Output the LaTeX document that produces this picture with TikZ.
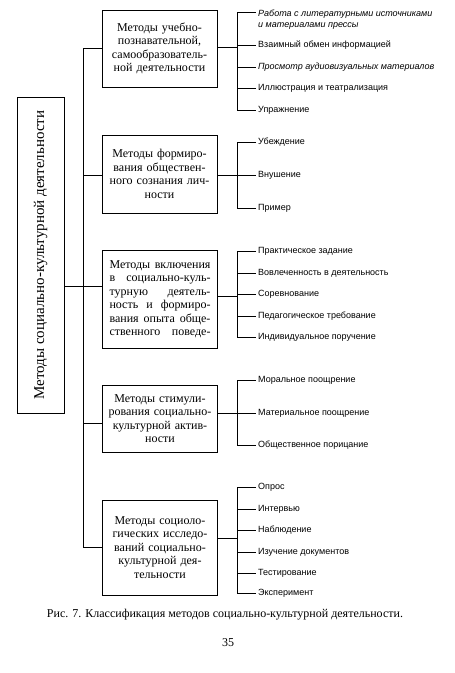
\documentclass[tikz,border=0pt]{standalone}
\usepackage{fontspec}
\setmainfont{Liberation Serif}
\setsansfont{Liberation Sans}
\usetikzlibrary{positioning}

\newcommand{\jline}[1]{\makebox[101pt]{#1}}

\tikzset{
  wire/.style={line width=0.9pt},
  group/.style={draw, line width=0.9pt, align=center, text width=107pt,
    inner xsep=4pt, inner ysep=3pt, font=\fontsize{12}{13.5}\selectfont},
  leaf/.style={anchor=west, inner sep=2pt, font=\sffamily\fontsize{9}{10.5}\selectfont},
  leafit/.style={leaf, font=\sffamily\itshape\fontsize{9}{10.5}\selectfont}
}

\begin{document}
\begin{tikzpicture}[x=1pt,y=-1pt]
\useasboundingbox (0,0) rectangle (455,673);
% the root box, standing on its side
\node[draw, line width=0.9pt, rotate=90, minimum width=316pt, minimum height=47pt,
  font=\fontsize{15}{17}\selectfont] (root) at (40.5,255) {Методы социально-культурной деятельности};

% the trunk and its five groups
\coordinate (t1) at (83,48);
\coordinate (t2) at (83,175);
\coordinate (t3) at (83,286);
\coordinate (t4) at (83,423);
\coordinate (t5) at (83,547);
\node[group, minimum height=77pt] (m1) at (159.5,48.5)
  {Методы учебно-\\познавательной,\\самообразователь-\\ной деятельности};
\node[group, minimum height=78pt] (m2) at (159.5,174)
  {Методы формиро-\\вания обществен-\\ного сознания лич-\\ности};
\node[group, minimum height=98pt] (m3) at (160,299)
  {\jline{Методы\hfill включения}\\\jline{в\hfill социально-куль-}\\\jline{турную\hfill деятель-}\\
   \jline{ность\hfill и\hfill формиро-}\\\jline{вания\hfill опыта\hfill обще-}\\\jline{ственного\hfill поведе-}};
\node[group, minimum height=67pt] (m4) at (160,418.5)
  {Методы стимули-\\рования социально-\\культурной актив-\\ности};
\node[group, minimum height=95pt] (m5) at (160,547.5)
  {Методы социоло-\\гических исследо-\\ваний социально-\\культурной дея-\\тельности};

\draw[wire] (t1) -- (t5);
\draw[wire] (root.south |- t3) -- (t3);
\draw[wire] (t1) -- (t1 -| m1.west);
\draw[wire] (t2) -- (t2 -| m2.west);
\draw[wire] (t3) -- (t3 -| m3.west);
\draw[wire] (t4) -- (t4 -| m4.west);
\draw[wire] (t5) -- (t5 -| m5.west);

% group 1
\coordinate (b1) at (237,47);
\coordinate (k11) at (237,12);
\node[leafit, anchor=north west, align=left] (l11) at (256,8)
  {Работа с литературными источниками\\и материалами прессы};
\node[leaf] (l12) at (256,45) {Взаимный обмен информацией};
\node[leafit] (l13) at (256,67) {Просмотр аудиовизуальных материалов};
\node[leaf] (l14) at (256,88) {Иллюстрация и театрализация};
\node[leaf] (l15) at (256,110) {Упражнение};
\draw[wire] (b1 -| m1.east) -- (b1);
\draw[wire] (k11) -- (l15.west -| b1) -- (l15.west);
\draw[wire] (k11) -- (k11 -| l11.west);
\draw[wire] (l12.west -| b1) -- (l12.west);
\draw[wire] (l13.west -| b1) -- (l13.west);
\draw[wire] (l14.west -| b1) -- (l14.west);

% group 2
\coordinate (b2) at (237,175);
\node[leaf] (l21) at (256,142) {Убеждение};
\node[leaf] (l22) at (256,175) {Внушение};
\node[leaf] (l23) at (256,208) {Пример};
\draw[wire] (b2 -| m2.east) -- (b2);
\draw[wire] (l21.west) -- (l21.west -| b2) -- (l23.west -| b2) -- (l23.west);
\draw[wire] (l22.west -| b2) -- (l22.west);

% group 3
\coordinate (b3) at (237,296);
\node[leaf] (l31) at (256,251) {Практическое задание};
\node[leaf] (l32) at (256,273) {Вовлеченность в деятельность};
\node[leaf] (l33) at (256,294) {Соревнование};
\node[leaf] (l34) at (256,316) {Педагогическое требование};
\node[leaf] (l35) at (256,337) {Индивидуальное поручение};
\draw[wire] (b3 -| m3.east) -- (b3);
\draw[wire] (l31.west) -- (l31.west -| b3) -- (l35.west -| b3) -- (l35.west);
\draw[wire] (l32.west -| b3) -- (l32.west);
\draw[wire] (l33.west -| b3) -- (l33.west);
\draw[wire] (l34.west -| b3) -- (l34.west);

% group 4
\coordinate (b4) at (237,413);
\node[leaf] (l41) at (256,380) {Моральное поощрение};
\node[leaf] (l42) at (256,413) {Материальное поощрение};
\node[leaf] (l43) at (256,445) {Общественное порицание};
\draw[wire] (b4 -| m4.east) -- (b4);
\draw[wire] (l41.west) -- (l41.west -| b4) -- (l43.west -| b4) -- (l43.west);
\draw[wire] (l42.west -| b4) -- (l42.west);

% group 5
\coordinate (b5) at (237,538);
\node[leaf] (l51) at (256,487) {Опрос};
\node[leaf] (l52) at (256,509) {Интервью};
\node[leaf] (l53) at (256,530) {Наблюдение};
\node[leaf] (l54) at (256,552) {Изучение документов};
\node[leaf] (l55) at (256,573) {Тестирование};
\node[leaf] (l56) at (256,593) {Эксперимент};
\draw[wire] (b5 -| m5.east) -- (b5);
\draw[wire] (l51.west) -- (l51.west -| b5) -- (l56.west -| b5) -- (l56.west);
\draw[wire] (l52.west -| b5) -- (l52.west);
\draw[wire] (l53.west -| b5) -- (l53.west);
\draw[wire] (l54.west -| b5) -- (l54.west);
\draw[wire] (l55.west -| b5) -- (l55.west);

% caption and page number
\node[font=\fontsize{12}{14}\selectfont] (cap) at (225,615)
  {Рис. 7. Классификация методов социально-культурной деятельности.};
\node[font=\fontsize{12}{14}\selectfont] (page) at (228,643) {35};
\end{tikzpicture}
\end{document}
